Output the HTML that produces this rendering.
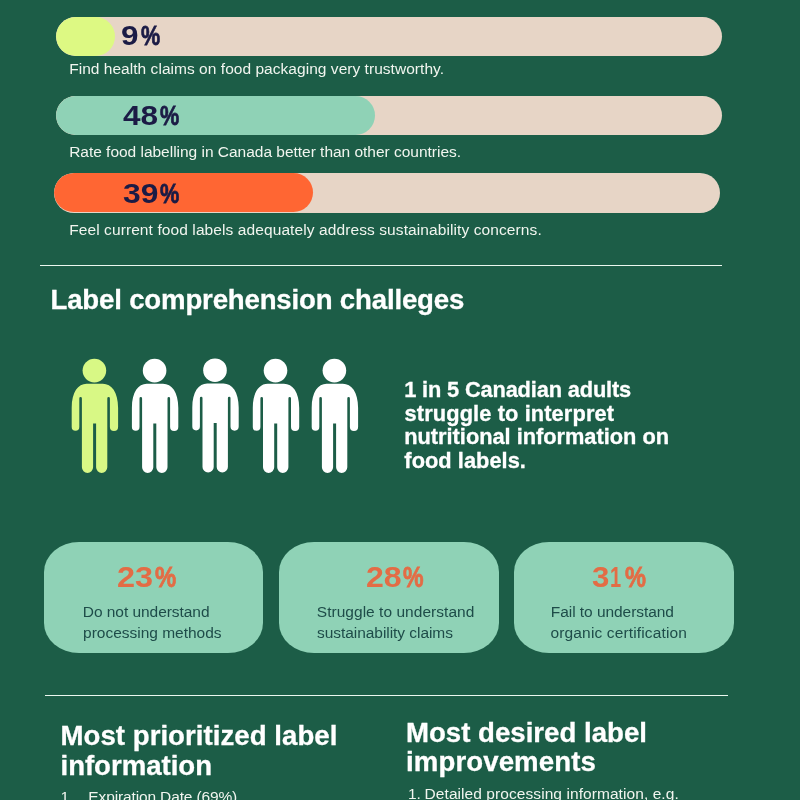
<!DOCTYPE html>
<html lang="en">
<head>
<meta charset="utf-8">
<title>Food labelling survey</title>
<style>
*{margin:0;padding:0;box-sizing:border-box}
html,body{width:800px;height:800px;overflow:hidden;background:#1c5d47}
body{position:relative;font-family:"Liberation Sans",Arial,sans-serif;color:#fff}
h2,p,strong,ol,li{font:inherit;list-style:none}
.t{position:absolute;white-space:nowrap}
.bar{position:absolute;background:#e7d5c6;border-radius:20px;overflow:hidden}
.fill{position:absolute;left:0;top:0;bottom:0;border-radius:20px}
.rule{position:absolute;height:1px;border:0;background:#ebf7ef}
.card{position:absolute;background:#8fd2b6;border-radius:35px / 30px;width:219.5px;height:111px}
svg{position:absolute}
</style>
</head>
<body>

<section class="stats">
 <div class="stat">
  <div class="bar" style="left:55.5px;top:17px;width:666px;height:38.6px"><div class="fill" style="width:59.5px;background:#ddf983"></div></div>
  <strong><span class="t" style="left:121.14px;top:21px;font-size:28.4px;line-height:28.4px;transform:scaleX(1.1091);transform-origin:0 0;font-weight:bold;color:#1b1b45">9</span><span class="t" style="left:140.85px;top:21px;font-size:28.4px;line-height:28.4px;transform:scaleX(0.7585);transform-origin:0 0;-webkit-text-stroke:0.8px #1b1b45;font-weight:bold;color:#1b1b45">%</span></strong>
  <p class="t" style="left:69.15px;top:61px;font-size:15.5px;line-height:15.5px;letter-spacing:0.040px;font-weight:normal;color:#f1f5ef">Find health claims on food packaging very trustworthy.</p>
 </div>
 <div class="stat">
  <div class="bar" style="left:55.5px;top:96px;width:666px;height:39px"><div class="fill" style="width:319.5px;background:#8fd2b6"></div></div>
  <strong><span class="t" style="left:123.33px;top:101px;font-size:28.4px;line-height:28.4px;transform:scaleX(1.1111);transform-origin:0 0;font-weight:bold;color:#1b1b45">48</span><span class="t" style="left:160.44px;top:101px;font-size:28.4px;line-height:28.4px;transform:scaleX(0.7606);transform-origin:0 0;-webkit-text-stroke:0.8px #1b1b45;font-weight:bold;color:#1b1b45">%</span></strong>
  <p class="t" style="left:69.15px;top:144px;font-size:15.5px;line-height:15.5px;letter-spacing:-0.018px;font-weight:normal;color:#f1f5ef">Rate food labelling in Canada better than other countries.</p>
 </div>
 <div class="stat">
  <div class="bar" style="left:53.6px;top:172.6px;width:666.4px;height:40.4px"><div class="fill" style="left:.6px;top:.6px;bottom:.6px;width:258.8px;background:#ff6633"></div></div>
  <strong><span class="t" style="left:123.30px;top:179px;font-size:28.4px;line-height:28.4px;transform:scaleX(1.1213);transform-origin:0 0;font-weight:bold;color:#1b1b45">39</span><span class="t" style="left:160.09px;top:179px;font-size:28.4px;line-height:28.4px;transform:scaleX(0.7627);transform-origin:0 0;-webkit-text-stroke:0.8px #1b1b45;font-weight:bold;color:#1b1b45">%</span></strong>
  <p class="t" style="left:69.15px;top:222px;font-size:15.5px;line-height:15.5px;letter-spacing:0.096px;font-weight:normal;color:#f1f5ef">Feel current food labels adequately address sustainability concerns.</p>
 </div>
</section>

<hr class="rule" style="left:40px;top:265px;width:682px">

<section class="comprehension">
 <h2 class="t" style="left:50.49px;top:286px;font-size:27.6px;line-height:27.6px;letter-spacing:-0.174px;-webkit-text-stroke:0.3px #fff;font-weight:bold;color:#fff">Label comprehension challeges</h2>
 <svg style="left:60px;top:350px" width="300" height="130" viewBox="60 350 300 130" role="img" aria-label="1 in 5">
  <defs>
   <g id="person">
    <circle cx="94.4" cy="370.6" r="11.8"/>
    <path d="M86.6 383.8H102.8C111.5 383.8 118.1 392 118.1 408V427A4.1 4.1 0 0 1 109.9 427V398.4A1.3 1.3 0 0 0 107.3 398.4V467.3A5.6 5.6 0 0 1 96.1 467.3V423.4H93.1V467.3A5.6 5.6 0 0 1 81.9 467.3V398.4A1.3 1.3 0 0 0 79.3 398.4V427A3.8 3.8 0 0 1 71.7 427V408C71.7 392 78.2 383.8 86.6 383.8Z"/>
   </g>
  </defs>
  <use href="#person" fill="#d8f885"/>
  <use href="#person" x="60.2" fill="#fff"/>
  <use href="#person" x="120.6" y="-0.4" fill="#fff"/>
  <use href="#person" x="181.1" fill="#fff"/>
  <use href="#person" x="240" fill="#fff"/>
 </svg>
 <p><span class="t" style="left:404.14px;top:379px;font-size:21.8px;line-height:21.8px;letter-spacing:-0.144px;-webkit-text-stroke:0.3px #fff;font-weight:bold;color:#fff">1 in 5 Canadian adults</span><span class="t" style="left:404.62px;top:403px;font-size:21.8px;line-height:21.8px;letter-spacing:0.114px;-webkit-text-stroke:0.3px #fff;font-weight:bold;color:#fff">struggle to interpret</span><span class="t" style="left:404.25px;top:426px;font-size:21.8px;line-height:21.8px;letter-spacing:-0.016px;-webkit-text-stroke:0.3px #fff;font-weight:bold;color:#fff">nutritional information on</span><span class="t" style="left:404.35px;top:450px;font-size:21.8px;line-height:21.8px;letter-spacing:0.037px;-webkit-text-stroke:0.3px #fff;font-weight:bold;color:#fff">food labels.</span></p>
 <article>
  <div class="card" style="left:43.8px;top:541.8px"></div>
  <strong><span class="t" style="left:117.02px;top:562px;font-size:30px;line-height:30px;transform:scaleX(1.0816);transform-origin:0 0;font-weight:bold;color:#e36c45">23</span><span class="t" style="left:154.72px;top:562px;font-size:30px;line-height:30px;transform:scaleX(0.7944);transform-origin:0 0;-webkit-text-stroke:0.8px #e36c45;font-weight:bold;color:#e36c45">%</span></strong>
  <p><span class="t" style="left:82.85px;top:604px;font-size:15.5px;line-height:15.5px;letter-spacing:-0.053px;font-weight:normal;color:#1e4c49">Do not understand</span><span class="t" style="left:83.10px;top:625px;font-size:15.5px;line-height:15.5px;letter-spacing:-0.013px;font-weight:normal;color:#1e4c49">processing methods</span></p>
 </article>
 <article>
  <div class="card" style="left:279px;top:541.8px"></div>
  <strong><span class="t" style="left:365.83px;top:562px;font-size:30px;line-height:30px;transform:scaleX(1.0698);transform-origin:0 0;font-weight:bold;color:#e36c45">28</span><span class="t" style="left:403.49px;top:562px;font-size:30px;line-height:30px;transform:scaleX(0.7705);transform-origin:0 0;-webkit-text-stroke:0.8px #e36c45;font-weight:bold;color:#e36c45">%</span></strong>
  <p><span class="t" style="left:316.75px;top:604px;font-size:15.5px;line-height:15.5px;letter-spacing:0.037px;font-weight:normal;color:#1e4c49">Struggle to understand</span><span class="t" style="left:317.00px;top:625px;font-size:15.5px;line-height:15.5px;letter-spacing:-0.049px;font-weight:normal;color:#1e4c49">sustainability claims</span></p>
 </article>
 <article>
  <div class="card" style="left:514px;top:541.8px"></div>
  <strong><span class="t" style="left:591.85px;top:562px;font-size:30px;line-height:30px;transform:scaleX(1.0400);transform-origin:0 0;font-weight:bold;color:#e36c45">3</span><span class="t" style="left:610.00px;top:562px;font-size:30px;line-height:30px;transform:scaleX(0.6679);transform-origin:0 0;font-weight:bold;color:#e36c45">1</span><span class="t" style="left:624.73px;top:562px;font-size:30px;line-height:30px;transform:scaleX(0.7865);transform-origin:0 0;-webkit-text-stroke:0.8px #e36c45;font-weight:bold;color:#e36c45">%</span></strong>
  <p><span class="t" style="left:550.85px;top:604px;font-size:15.5px;line-height:15.5px;letter-spacing:-0.057px;font-weight:normal;color:#1e4c49">Fail to understand</span><span class="t" style="left:550.52px;top:625px;font-size:15.5px;line-height:15.5px;letter-spacing:0.144px;font-weight:normal;color:#1e4c49">organic certification</span></p>
 </article>
</section>

<hr class="rule" style="left:45px;top:695px;width:682.5px">

<section class="lists">
 <div class="col">
  <h2><span class="t" style="left:60.49px;top:722px;font-size:27.6px;line-height:27.6px;letter-spacing:0.042px;-webkit-text-stroke:0.3px #fff;font-weight:bold;color:#fff">Most prioritized label</span><span class="t" style="left:60.49px;top:752px;font-size:27.6px;line-height:27.6px;letter-spacing:-0.024px;-webkit-text-stroke:0.3px #fff;font-weight:bold;color:#fff">information</span></h2>
  <ol><li><span class="t" style="left:60.48px;top:789px;font-size:15.5px;line-height:15.5px;font-weight:normal;color:#f1f5ef">1.</span><span class="t" style="left:88.35px;top:789px;font-size:15.5px;line-height:15.5px;letter-spacing:-0.135px;font-weight:normal;color:#f1f5ef">Expiration Date (69%)</span></li></ol>
 </div>
 <div class="col">
  <h2><span class="t" style="left:406.00px;top:719px;font-size:27.6px;line-height:27.6px;letter-spacing:0.012px;-webkit-text-stroke:0.3px #fff;font-weight:bold;color:#fff">Most desired label</span><span class="t" style="left:406.00px;top:748px;font-size:27.6px;line-height:27.6px;letter-spacing:0.108px;-webkit-text-stroke:0.3px #fff;font-weight:bold;color:#fff">improvements</span></h2>
  <ol><li><span class="t" style="left:407.98px;top:786px;font-size:15.5px;line-height:15.5px;font-weight:normal;color:#f1f5ef">1.</span><span class="t" style="left:424.55px;top:786px;font-size:15.5px;line-height:15.5px;letter-spacing:0.072px;font-weight:normal;color:#f1f5ef">Detailed processing information, e.g.</span></li></ol>
 </div>
</section>

</body>
</html>
